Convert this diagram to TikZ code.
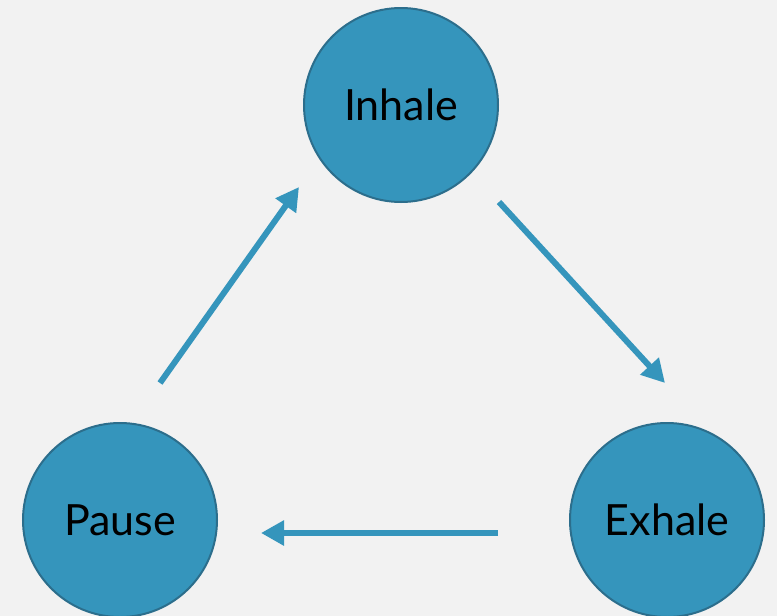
\documentclass[tikz,border=0pt]{standalone}
\usepackage{fontspec}
\setmainfont{Lato}
\usetikzlibrary{arrows.meta}
\definecolor{bg}{HTML}{F2F2F2}
\definecolor{ball}{HTML}{3595BC}
\definecolor{rim}{HTML}{2C6E8C}
\begin{document}
\begin{tikzpicture}[x = 1pt, y = -1pt,
    phase/.style = {circle, fill = ball, draw = rim, line width = 2pt, minimum size = 194pt, inner sep = 0pt, font = \fontsize{43}{50}\selectfont},
    flow/.style = {draw = ball, line width = 6pt, -{Triangle[length = 23pt, width = 24pt]}}]
	\fill[bg] (0,0) rectangle (777,616);
	\useasboundingbox (0,0) rectangle (777,616);
	\node[phase] (inhale) at (401,105) {Inhale};
	\node[phase] (exhale) at (667,520) {Exhale};
	\node[phase] (pause) at (120,520) {Pause};
	\coordinate (pausetail) at (160,383);
	\coordinate (inhalehead) at (299,187);
	\coordinate (inhaletail) at (499,202);
	\coordinate (exhalehead) at (665,383);
	\coordinate (exhaletail) at (498,533);
	\coordinate (pausehead) at (261,533);
	\draw[flow] (pausetail) -- (inhalehead);
	\draw[flow] (inhaletail) -- (exhalehead);
	\draw[flow] (exhaletail) -- (pausehead);
\end{tikzpicture}
\end{document}
